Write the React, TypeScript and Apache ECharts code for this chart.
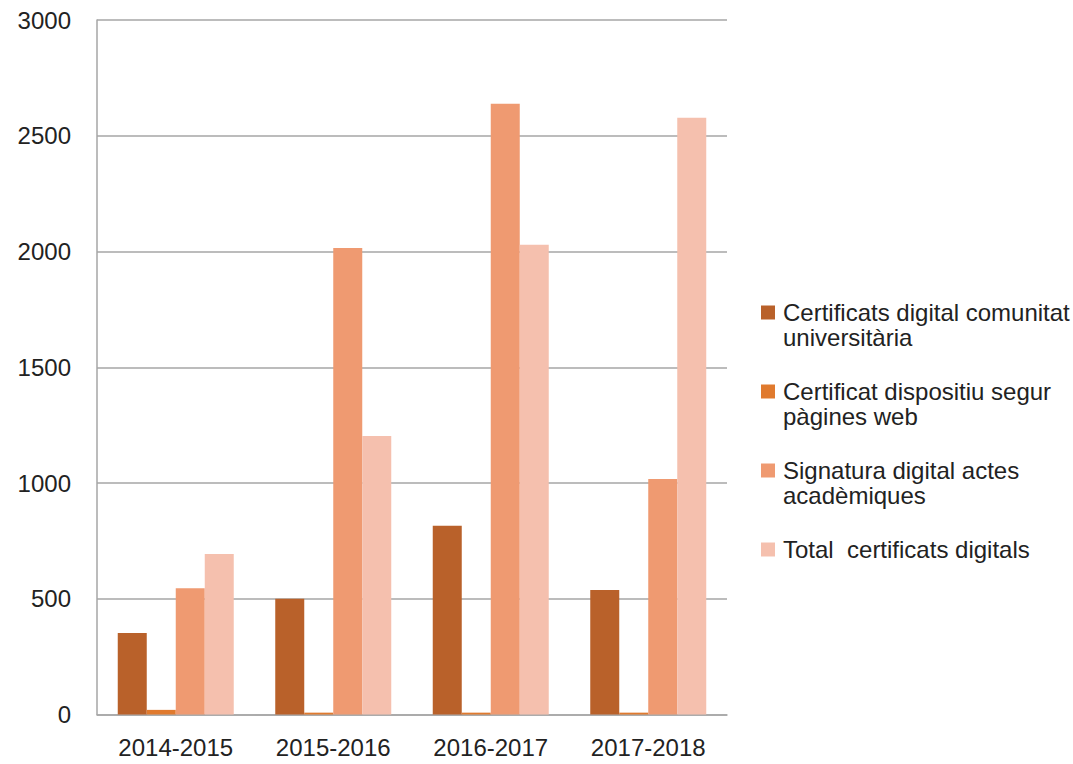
import React, { useEffect, useRef } from "react";
import * as echarts from "echarts";

const categories = ["2014-2015", "2015-2016", "2016-2017", "2017-2018"];
const seriesNames = [
  "Certificats digital comunitat universitària",
  "Certificat dispositiu segur pàgines web",
  "Signatura digital actes acadèmiques",
  "Total  certificats digitals",
];
const legendLines = [
  "\nCertificats digital comunitat\nuniversitària",
  "\nCertificat dispositiu segur\npàgines web",
  "\nSignatura digital actes\nacadèmiques",
  "\nTotal  certificats digitals\n ",
];
const comunitat = [352, 500, 815, 538];
const paginesWeb = [20, 8, 8, 8];
const actes = [545, 2015, 2638, 1017];
const total = [693, 1203, 2029, 2578];
const colors = ["#B9612A", "#E07A2E", "#EF9A71", "#F5C0AE"];

const FONT = "'Liberation Sans', Arial, sans-serif";

export default function App() {
  const ref = useRef<HTMLDivElement>(null);
  useEffect(() => {
    if (!ref.current) return;
    const chart = echarts.init(ref.current, null, { renderer: "svg" });
    const values = [comunitat, paginesWeb, actes, total];
    chart.setOption({
      animation: false,
      color: colors,
      textStyle: { fontFamily: FONT },
      grid: { left: 97, right: 346, top: 20, bottom: 49.5 },
      legend: {
        orient: "vertical",
        left: 761,
        top: 275,
        padding: 0,
        itemWidth: 14,
        itemHeight: 14,
        itemGap: 4,
        icon: "rect",
        data: seriesNames,
        formatter: (name: string) => legendLines[seriesNames.indexOf(name)],
        textStyle: {
          fontFamily: FONT,
          fontSize: 24,
          lineHeight: 25,
          color: "#222",
          padding: [0, 0, 0, 3],
        },
      },
      xAxis: {
        type: "category",
        data: categories,
        axisLine: { lineStyle: { color: "#A6A6A6", width: 1.5 } },
        axisTick: { show: false },
        axisLabel: { fontFamily: FONT, fontSize: 24, color: "#222", margin: 21 },
      },
      yAxis: {
        type: "value",
        min: 0,
        max: 3000,
        interval: 500,
        axisLine: { show: true, lineStyle: { color: "#A6A6A6", width: 1.5 } },
        axisTick: { show: false },
        splitLine: { lineStyle: { color: "#A6A6A6", width: 1.5 } },
        axisLabel: {
          fontFamily: FONT,
          fontSize: 24,
          color: "#222",
          margin: 26,
          formatter: (v: number) => String(v),
        },
      },
      series: seriesNames.map((n, i) => ({
        name: n,
        type: "bar",
        data: values[i],
        barWidth: 29,
        barGap: "0%",
        itemStyle: { color: colors[i] },
      })),
    });
    return () => chart.dispose();
  }, []);
  return (
    <div
      ref={ref}
      style={{ position: "absolute", left: 0, top: 0, width: 1073, height: 764, background: "#fff" }}
    />
  );
}
